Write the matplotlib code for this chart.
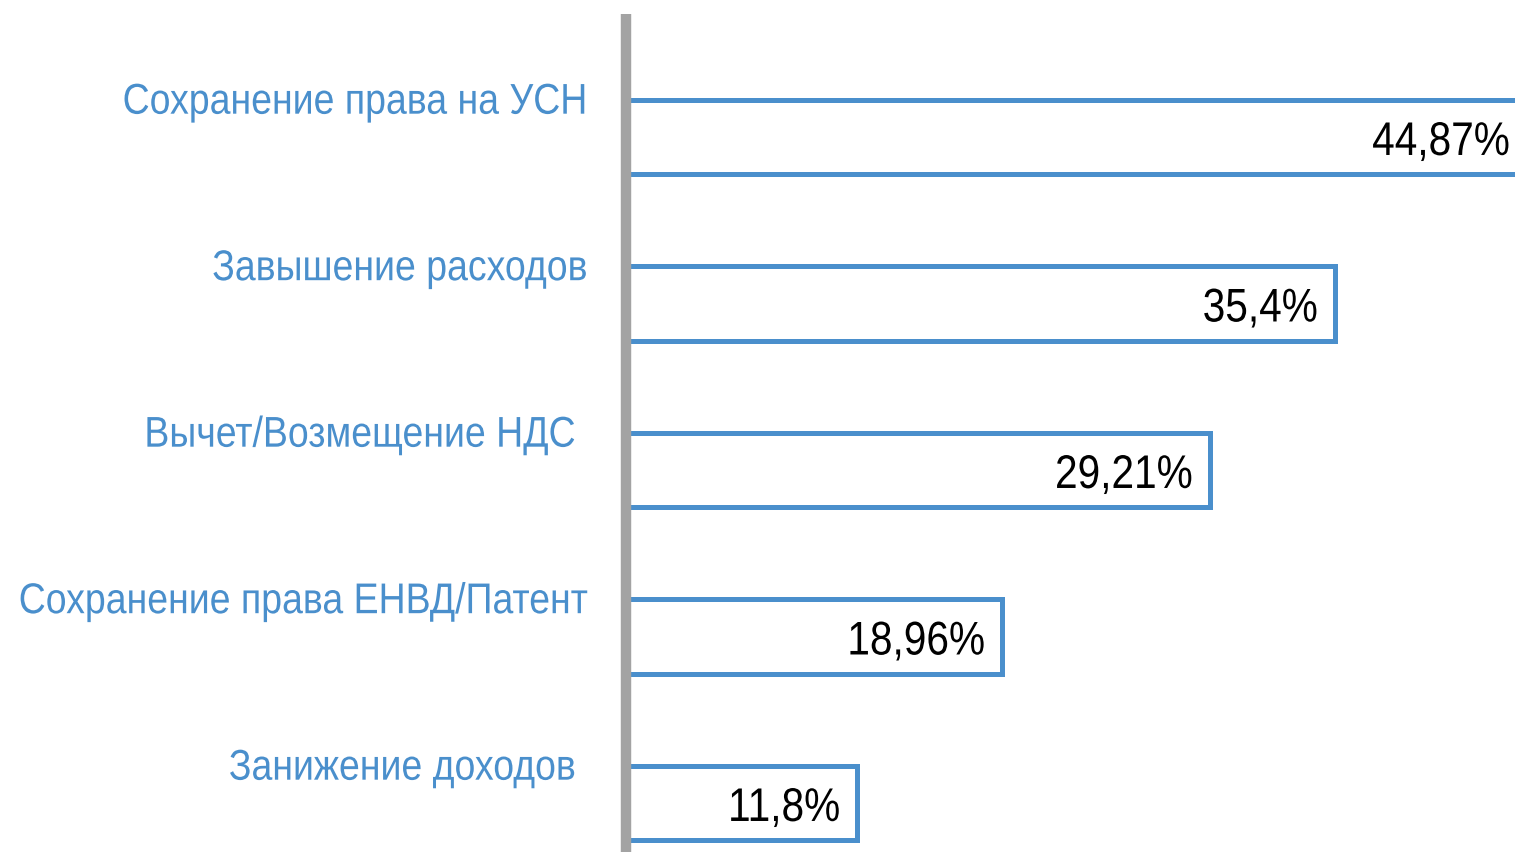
import matplotlib
matplotlib.use("Agg")
import matplotlib.pyplot as plt
from matplotlib.lines import Line2D
from matplotlib.patheffects import AbstractPathEffect
from matplotlib.transforms import Affine2D

c_bar = "#4a8fcc"
c_axis = "#a3a3a3"

plt.rcParams['font.family'] = ['Liberation Sans', 'DejaVu Sans']

categories = ["Сохранение права на УСН", "Завышение расходов", "Вычет/Возмещение НДС ",
              "Сохранение права ЕНВД/Патент", "Занижение доходов "]
values = [44.87, 35.4, 29.21, 18.96, 11.8]
value_labels = ["44,87%", "35,4%", "29,21%", "18,96%", "11,8%"]


class Squeeze(AbstractPathEffect):
    # narrow the glyphs horizontally (condensed look), keep the right end in place
    def __init__(self, sx=0.87):
        super().__init__()
        self.sx = sx

    def draw_path(self, renderer, gc, tpath, affine, rgbFace=None):
        x1 = tpath.get_extents().x1
        t = Affine2D().translate(-x1, 0).scale(self.sx, 1).translate(x1, 0)
        renderer.draw_path(gc, tpath, t + affine, rgbFace)


W, H = 1515, 852
px_per_unit = 20.25
left_px = 625
fig = plt.figure(figsize=(W / 100, H / 100), dpi=100)
ax = fig.add_axes([left_px / W, 0, 1 - left_px / W, 1])

pos = list(range(len(values)))
ax.barh(pos, values, height=0.45, color="white", edgecolor=c_bar, linewidth=3.6)

# zero sits just behind the gray axis line
x0 = (left_px - 618) / px_per_unit
ax.set_xlim(x0, x0 + (W - left_px) / px_per_unit)
ax.set_ylim((852 - 137) / 166.5, -137 / 166.5)
ax.axis("off")

for i, (v, lab) in enumerate(zip(values, value_labels)):
    ax.annotate(lab, xy=(v, i + 0.108), xytext=(-12, 0), textcoords="offset points",
                ha="right", va="baseline", fontsize=34, color="black",
                annotation_clip=False, path_effects=[Squeeze(0.86)])

for i, cat in enumerate(categories):
    ax.annotate(cat, xy=(0, i - 0.14), xycoords=("axes fraction", "data"),
                xytext=(-27, 0), textcoords="offset points",
                ha="right", va="baseline", fontsize=31, color=c_bar,
                annotation_clip=False, path_effects=[Squeeze(0.87)])

# gray vertical axis line
fig.add_artist(Line2D([625.5 / W, 625.5 / W], [0, 1 - 14 / H], color=c_axis, linewidth=7.5,
                      solid_capstyle="butt"))

fig.savefig("out.png", dpi=100)
